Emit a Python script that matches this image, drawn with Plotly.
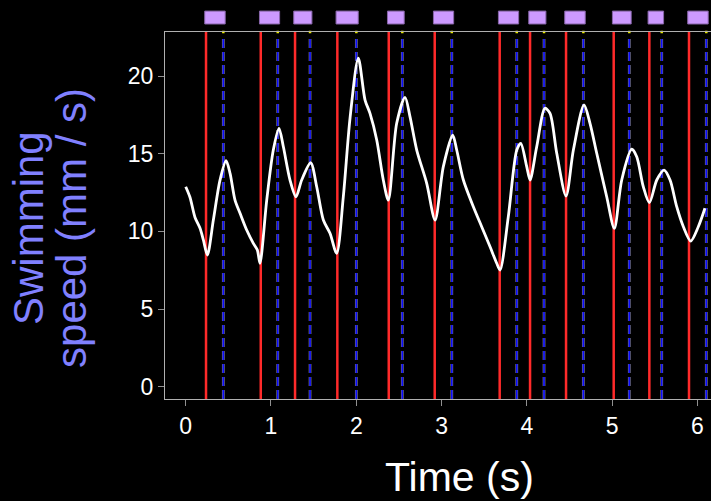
import plotly.graph_objects as go

# Swimming speed trace (time in s, speed in mm/s)
time_s = [0, 0.05, 0.109, 0.168, 0.207, 0.254, 0.324, 0.402, 0.473, 0.52, 0.578, 0.637, 0.715,
          0.793, 0.84, 0.871, 0.95, 1.027, 1.094, 1.145, 1.223, 1.293, 1.36, 1.466, 1.536, 1.614,
          1.692, 1.77, 1.848, 1.927, 2.024, 2.103, 2.161, 2.24, 2.317, 2.376, 2.474, 2.572, 2.63,
          2.709, 2.826, 2.924, 3.021, 3.131, 3.178, 3.256, 3.373, 3.471, 3.569, 3.647, 3.686,
          3.783, 3.882, 3.929, 3.999, 4.038, 4.116, 4.213, 4.272, 4.351, 4.46, 4.546, 4.671,
          4.741, 4.82, 4.937, 5.026, 5.113, 5.23, 5.289, 5.366, 5.437, 5.524, 5.609, 5.68,
          5.758, 5.836, 5.922, 6.011, 6.089]
speed = [12.88, 12.2, 10.9, 10.2, 9.45, 8.48, 10.73, 13.3, 14.55, 13.74, 12.02, 11.17, 10.09,
         9.23, 8.8, 7.95, 12.02, 15.24, 16.64, 15.45, 13.31, 12.23, 13.31, 14.42, 12.88, 10.73,
         9.88, 8.59, 12.23, 17.3, 21.15, 18.46, 17.6, 15.89, 13.31, 12.02, 16.96, 18.63, 17.39,
         15.24, 13.1, 10.73, 14.17, 16.2, 15.24, 13.31, 11.59, 10.3, 9.01, 7.95, 7.51,
         10.95, 15.24, 15.67, 14.17, 13.31, 15.45, 17.93, 17.6, 15.03, 12.28, 15.24, 18.14,
         16.96, 15.03, 12.23, 10.2, 13.31, 15.29, 14.81, 12.88, 11.85, 13.31, 13.95, 13.31,
         11.59, 10.3, 9.38, 10.3, 11.49]

# Event times (s)
red_events = [0.238, 0.880, 1.282, 1.778, 2.381, 2.920, 3.682, 4.038, 4.460, 5.019, 5.437, 5.902]
blue_events = [0.441, 1.079, 1.458, 2.001, 2.540, 3.120, 3.882, 4.202, 4.663, 5.202, 5.582, 6.105]

x_ticks = [0, 1, 2, 3, 4, 5, 6]
y_ticks = [0, 5, 10, 15, 20]

x_range = [-0.243, 6.160]
y_range = [-0.79, 22.84]

fig = go.Figure()

shapes = []
for r in red_events:
    shapes.append(dict(type="line", xref="x", yref="paper", x0=r, x1=r, y0=0, y1=1,
                       line=dict(color="#ff2a2a", width=2.5), layer="below"))
for b in blue_events:
    shapes.append(dict(type="line", xref="x", yref="paper", x0=b, x1=b, y0=0, y1=0.99,
                       line=dict(color="#7a7a7a", width=2.8, dash="9px,4px"), layer="below"))
    shapes.append(dict(type="line", xref="x", yref="paper", x0=b, x1=b, y0=0, y1=0.99,
                       line=dict(color="#0a0aff", width=1.6, dash="9px,4px"), layer="below"))
for r, b in zip(red_events, blue_events):
    shapes.append(dict(type="rect", xref="x", yref="paper", x0=r - 0.015, x1=b + 0.022,
                       y0=1.0218, y1=1.057, fillcolor="#cc99ff",
                       line=dict(color="#8866aa", width=1)))

fig.add_trace(go.Scatter(x=time_s, y=speed, mode="lines",
                         line=dict(color="white", width=2.8, shape="spline", smoothing=0.8),
                         hoverinfo="skip", showlegend=False))

fig.add_trace(go.Scatter(x=blue_events, y=[y_range[1]] * len(blue_events), mode="markers",
                         marker=dict(color="#e8e800", size=2.5, symbol="square"),
                         cliponaxis=False, hoverinfo="skip", showlegend=False))

fig.update_layout(
    width=711, height=501,
    margin=dict(l=165, r=0, t=32, b=102),
    paper_bgcolor="black", plot_bgcolor="black",
    font=dict(family="Liberation Sans, Arial, sans-serif", color="white"),
    shapes=shapes,
    xaxis=dict(range=x_range, tickvals=x_ticks, ticktext=[str(v) for v in x_ticks],
               showgrid=False, zeroline=False, showline=True, linecolor="#b0b0b0",
               linewidth=1, mirror=True, ticks="outside", ticklen=6, tickcolor="#909090",
               tickfont=dict(size=23, color="white")),
    yaxis=dict(range=y_range, tickvals=y_ticks, ticktext=[str(v) for v in y_ticks],
               showgrid=False, zeroline=False, showline=True, linecolor="#b0b0b0",
               linewidth=1, ticks="outside", ticklen=6, tickcolor="#909090",
               tickfont=dict(size=23, color="white")),
    annotations=[
        dict(text="Time (s)", xref="paper", yref="paper", x=0.5385, y=-0.2125,
             xanchor="center", yanchor="middle", showarrow=False,
             font=dict(size=41, color="white")),
        dict(text="Swimming", xref="paper", yref="paper", x=(29 - 165) / 546, y=0.466,
             xanchor="center", yanchor="middle", showarrow=False, textangle=-90,
             font=dict(size=42, color="#8080ff")),
        dict(text="speed (mm / s)", xref="paper", yref="paper", x=(72 - 165) / 546, y=0.466,
             xanchor="center", yanchor="middle", showarrow=False, textangle=-90,
             font=dict(size=42, color="#8080ff")),
    ],
)

fig.write_html(
    "out.html",
    config={"displayModeBar": False},
    post_script="document.body.style.margin='0';document.body.style.padding='0';"
                "document.body.style.background='black';"
                "document.documentElement.style.overflow='hidden';",
)
